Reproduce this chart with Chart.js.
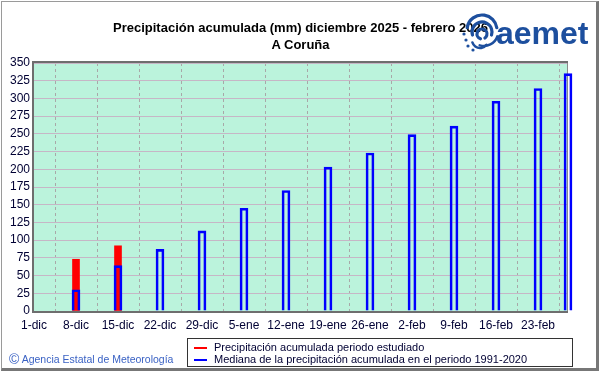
<!DOCTYPE html>
<html><head><meta charset="utf-8">
<script src="https://cdn.jsdelivr.net/npm/chart.js@4"></script>
<style>
html,body{margin:0;padding:0;background:#fff;}
#wrap{position:relative;width:601px;height:374px;overflow:hidden;font-family:"Liberation Sans",Arial,sans-serif;background:#fff;}
#chart{position:absolute;left:0;top:0;}
#logoIcon{position:absolute;left:460px;top:10px;z-index:3;}
.frame{position:absolute;left:1px;top:1px;width:594px;height:366px;border-left:1px solid #9a9a9a;border-top:1px solid #9a9a9a;border-right:3px solid #777;border-bottom:3px solid #777;pointer-events:none;z-index:5;}
.title{position:absolute;left:0;width:601px;text-align:center;font-weight:bold;font-size:13px;color:#000;line-height:16px;z-index:2;}
.logo{position:absolute;left:496px;top:17px;font-family:"Liberation Sans",Arial,sans-serif;font-weight:bold;font-size:32px;line-height:32px;color:#1d4f9e;z-index:3;}
.copy{position:absolute;left:9px;top:351px;font-size:10.5px;color:#3a62c4;z-index:2;}
.copy span{font-size:14px;vertical-align:-1px;}
.legend{position:absolute;left:187px;top:338px;width:384px;height:27px;border:1px solid #333;z-index:2;font-size:11px;color:#000033;}
.legend .row{position:absolute;left:26px;height:13px;line-height:13px;white-space:nowrap;}
.legend .mk{position:absolute;left:-20px;top:6px;width:13px;height:2px;display:block;}
</style>
</head><body>
<div id="wrap">
  <canvas id="chart" width="601" height="374"></canvas>
  <div class="title" style="top:20px;">Precipitación acumulada (mm) diciembre 2025 - febrero 2026</div>
  <div class="title" style="top:37px;">A Coruña</div>
  <canvas id="logoIcon" width="40" height="44"></canvas>
  <div class="logo">aemet</div>
  <div class="legend">
    <div class="row" style="top:2px;"><span class="mk" style="background-color:#ff0000"></span><span id="lg0"></span></div>
    <div class="row" style="top:14px;"><span class="mk" style="background-color:#0000ff"></span><span id="lg1"></span></div>
  </div>
  <div class="copy"><span>©</span> Agencia Estatal de Meteorología</div>
  <div class="frame"></div>
</div>
<script>
// ---- data ----
const tickDays = [0, 7, 14, 21, 28, 35, 42, 49, 56, 63, 70, 77, 84];
const tickLabels = ['1-dic','8-dic','15-dic','22-dic','29-dic','5-ene','12-ene','19-ene','26-ene','2-feb','9-feb','16-feb','23-feb'];
const observedDays = [7, 14];
const observedValues = [73, 92];
const medianDays = [7, 14, 21, 28, 35, 42, 49, 56, 63, 70, 77, 84, 89];
const medianValues = [30, 64, 87, 113, 145, 170, 203, 223, 249, 261, 296, 314, 335];
const seriesNames = ['Precipitación acumulada periodo estudiado', 'Mediana de la precipitación acumulada en el periodo 1991-2020'];
const yMax = 350, yStep = 25, xMax = 89;

document.getElementById('lg0').textContent = seriesNames[0];
document.getElementById('lg1').textContent = seriesNames[1];

// logo icon (approximate swirl)
(function(){
  const c = document.getElementById('logoIcon').getContext('2d');
  c.strokeStyle = '#1d4f9e'; c.fillStyle = '#1d4f9e'; c.lineCap = 'round';
  c.lineWidth = 3.2;
  c.beginPath(); c.arc(22, 20, 15, Math.PI*1.05, Math.PI*1.95); c.stroke();
  c.beginPath(); c.arc(22, 22, 10, Math.PI*0.9, Math.PI*2.1); c.stroke();
  c.beginPath(); c.arc(22, 24, 5, Math.PI*0.6, Math.PI*2.3); c.stroke();
  c.lineWidth = 2.5;
  c.beginPath(); c.arc(24, 22, 14, Math.PI*0.1, Math.PI*0.6); c.stroke();
  c.beginPath(); c.arc(20, 30, 8, Math.PI*0.2, Math.PI*0.9); c.stroke();
  [[6,30],[8,36],[13,40],[4,24]].forEach(p=>{c.beginPath();c.arc(p[0],p[1],1.6,0,Math.PI*2);c.fill();});
})();

const frameBg = {
  id: 'frameBg',
  beforeDraw(chart) {
    const {ctx, chartArea: a} = chart;
    ctx.save();
    ctx.fillStyle = '#bbf3dc';
    ctx.fillRect(a.left, a.top, a.right - a.left, a.bottom - a.top);
    ctx.restore();
  },
  beforeDatasetsDraw(chart) {
    const {ctx, chartArea: a} = chart;
    ctx.save();
    ctx.strokeStyle = '#8a8a8a'; ctx.lineWidth = 1;
    ctx.beginPath(); ctx.moveTo(a.right - 0.5, a.top); ctx.lineTo(a.right - 0.5, a.bottom); ctx.stroke();
    ctx.strokeStyle = '#6e6e6e'; ctx.lineWidth = 2;
    ctx.beginPath();
    ctx.moveTo(a.left - 1, a.bottom + 1); ctx.lineTo(a.left - 1, a.top - 1); ctx.lineTo(a.right, a.top - 1);
    ctx.stroke();
    ctx.beginPath(); ctx.moveTo(a.left - 2, a.bottom + 1); ctx.lineTo(a.right, a.bottom + 1); ctx.stroke();
    ctx.restore();
  }
};

new Chart(document.getElementById('chart'), {
  type: 'bar',
  data: {
    datasets: [
      {
        label: seriesNames[1],
        data: medianDays.map((d, i) => ({x: d, y: medianValues[i]})),
        backgroundColor: 'rgba(0,0,0,0)',
        borderColor: '#0000ff',
        borderWidth: 2,
        barThickness: 8,
        grouped: false,
        clip: false
      },
      {
        label: seriesNames[0],
        data: observedDays.map((d, i) => ({x: d, y: observedValues[i]})),
        backgroundColor: '#ff0000',
        borderWidth: 0,
        barThickness: 7,
        grouped: false
      }
    ]
  },
  options: {
    responsive: false,
    animation: false,
    layout: {padding: {left: 0, right: 33, top: 63, bottom: 0}},
    plugins: {legend: {display: false}, tooltip: {enabled: false}, title: {display: false}},
    scales: {
      x: {
        type: 'linear', min: 0, max: xMax, offset: false,
        afterBuildTicks: s => { s.ticks = tickDays.map(v => ({value: v})); },
        afterFit: s => { s.height = 63; },
        ticks: {
          autoSkip: false, maxRotation: 0, padding: 7,
          color: '#000033', font: {family: 'Liberation Sans', size: 12},
          callback: v => tickLabels[tickDays.indexOf(v)]
        },
        grid: {color: '#a8a8a8', lineWidth: 1, drawTicks: false},
        border: {display: false, dash: [3, 3]}
      },
      y: {
        min: 0, max: yMax,
        afterFit: s => { s.width = 34; },
        ticks: {stepSize: yStep, padding: 4, color: '#000033', font: {family: 'Liberation Sans', size: 12}},
        grid: {color: '#c6b6c6', lineWidth: 1, drawTicks: false},
        border: {display: false}
      }
    }
  },
  plugins: [frameBg]
});
</script>
</body></html>
